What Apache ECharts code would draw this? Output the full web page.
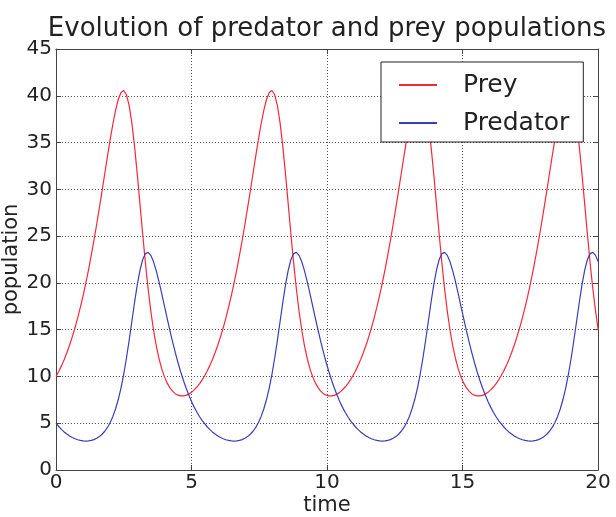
<!DOCTYPE html>
<html>
<head>
<meta charset="utf-8">
<script src="https://cdn.jsdelivr.net/npm/echarts@6/dist/echarts.min.js"></script>
<style>
html,body{margin:0;padding:0;background:#fff;}
#chart{width:616px;height:517px;}
</style>
</head>
<body>
<div id="chart"></div>
<script>
const titleText = 'Evolution of predator and prey populations';
const xTicks = [0, 5, 10, 15, 20];
const yTicks = [0, 5, 10, 15, 20, 25, 30, 35, 40, 45];
const seriesNames = ['Prey', 'Predator'];

const time = [
0.0,0.1,0.2,0.3,0.4,0.5,0.6,0.7,0.8,0.9,
1.0,1.1,1.2,1.3,1.4,1.5,1.6,1.7,1.8,1.9,
2.0,2.1,2.2,2.3,2.4,2.5,2.6,2.7,2.8,2.9,
3.0,3.1,3.2,3.3,3.4,3.5,3.6,3.7,3.8,3.9,
4.0,4.1,4.2,4.3,4.4,4.5,4.6,4.7,4.8,4.9,
5.0,5.1,5.2,5.3,5.4,
5.47,5.57,5.67,5.77,5.87,5.97,6.07,6.17,6.27,6.37,
6.47,6.57,6.67,6.77,6.87,6.97,7.07,7.17,7.27,7.37,
7.47,7.57,7.67,7.77,7.87,7.97,8.07,8.17,8.27,8.37,
8.47,8.57,8.67,8.77,8.87,8.97,9.07,9.17,9.27,9.37,
9.47,9.57,9.67,9.77,9.87,9.97,10.07,10.17,10.27,10.37,
10.47,10.57,10.67,10.77,10.87,
10.94,11.04,11.14,11.24,11.34,11.44,11.54,11.64,11.74,11.84,
11.94,12.04,12.14,12.24,12.34,12.44,12.54,12.64,12.74,12.84,
12.94,13.04,13.14,13.24,13.34,13.44,13.54,13.64,13.74,13.84,
13.94,14.04,14.14,14.24,14.34,14.44,14.54,14.64,14.74,14.84,
14.94,15.04,15.14,15.24,15.34,15.44,15.54,15.64,15.74,15.84,
15.94,16.04,16.14,16.24,16.34,
16.41,16.51,16.61,16.71,16.81,16.91,17.01,17.11,17.21,17.31,
17.41,17.51,17.61,17.71,17.81,17.91,18.01,18.11,18.21,18.31,
18.41,18.51,18.61,18.71,18.81,18.91,19.01,19.11,19.21,19.31,
19.41,19.51,19.61,19.71,19.81,19.91,20.01
];

const prey = [
10.00,10.53,11.13,11.79,12.53,13.34,14.23,15.20,16.26,17.40,
18.64,19.97,21.40,22.93,24.54,26.24,28.01,29.84,31.69,33.54,
35.34,37.01,38.47,39.63,40.36,40.56,40.11,38.95,37.07,34.57,
31.60,28.39,25.17,22.11,19.35,16.96,14.94,13.27,11.92,10.83,
9.98,9.31,8.80,8.43,8.16,8.00,7.92,7.92,7.98,8.11,
8.30,8.56,8.87,9.23,9.66,
10.00,10.53,11.13,11.79,12.53,13.34,14.23,15.20,16.26,17.40,
18.64,19.97,21.40,22.93,24.54,26.24,28.01,29.84,31.69,33.54,
35.34,37.01,38.47,39.63,40.36,40.56,40.11,38.95,37.07,34.57,
31.60,28.39,25.17,22.11,19.35,16.96,14.94,13.27,11.92,10.83,
9.98,9.31,8.80,8.43,8.16,8.00,7.92,7.92,7.98,8.11,
8.30,8.56,8.87,9.23,9.66,
10.00,10.53,11.13,11.79,12.53,13.34,14.23,15.20,16.26,17.40,
18.64,19.97,21.40,22.93,24.54,26.24,28.01,29.84,31.69,33.54,
35.34,37.01,38.47,39.63,40.36,40.56,40.11,38.95,37.07,34.57,
31.60,28.39,25.17,22.11,19.35,16.96,14.94,13.27,11.92,10.83,
9.98,9.31,8.80,8.43,8.16,8.00,7.92,7.92,7.98,8.11,
8.30,8.56,8.87,9.23,9.66,
10.00,10.53,11.13,11.79,12.53,13.34,14.23,15.20,16.26,17.40,
18.64,19.97,21.40,22.93,24.54,26.24,28.01,29.84,31.69,33.54,
35.34,37.01,38.47,39.63,40.36,40.56,40.11,38.95,37.07,34.57,
31.60,28.39,25.17,22.11,19.35,16.96,14.94
];

const predator = [
5.00,4.65,4.34,4.07,3.84,3.64,3.47,3.34,3.23,3.16,
3.11,3.09,3.11,3.16,3.25,3.39,3.57,3.82,4.14,4.55,
5.08,5.73,6.55,7.56,8.79,10.26,11.97,13.87,15.90,17.93,
19.81,21.37,22.50,23.13,23.26,22.94,22.25,21.29,20.13,18.87,
17.55,16.24,14.95,13.73,12.57,11.49,10.50,9.59,8.76,8.01,
7.33,6.72,6.17,5.69,5.25,
5.00,4.65,4.34,4.07,3.84,3.64,3.47,3.34,3.23,3.16,
3.11,3.09,3.11,3.16,3.25,3.39,3.57,3.82,4.14,4.55,
5.08,5.73,6.55,7.56,8.79,10.26,11.97,13.87,15.90,17.93,
19.81,21.37,22.50,23.13,23.26,22.94,22.25,21.29,20.13,18.87,
17.55,16.24,14.95,13.73,12.57,11.49,10.50,9.59,8.76,8.01,
7.33,6.72,6.17,5.69,5.25,
5.00,4.65,4.34,4.07,3.84,3.64,3.47,3.34,3.23,3.16,
3.11,3.09,3.11,3.16,3.25,3.39,3.57,3.82,4.14,4.55,
5.08,5.73,6.55,7.56,8.79,10.26,11.97,13.87,15.90,17.93,
19.81,21.37,22.50,23.13,23.26,22.94,22.25,21.29,20.13,18.87,
17.55,16.24,14.95,13.73,12.57,11.49,10.50,9.59,8.76,8.01,
7.33,6.72,6.17,5.69,5.25,
5.00,4.65,4.34,4.07,3.84,3.64,3.47,3.34,3.23,3.16,
3.11,3.09,3.11,3.16,3.25,3.39,3.57,3.82,4.14,4.55,
5.08,5.73,6.55,7.56,8.79,10.26,11.97,13.87,15.90,17.93,
19.81,21.37,22.50,23.13,23.26,22.94,22.25
];

const FONT = 'DejaVu Sans';
const chart = echarts.init(document.getElementById('chart'), null, {renderer: 'canvas'});

const preyData = time.map((t, i) => [t, prey[i]]);
const predData = time.map((t, i) => [t, predator[i]]);

const axisLineStyle = {color: '#444', width: 1};
const tickStyle = {show: true, inside: true, length: 5, lineStyle: {color: '#444', width: 1}};
const gridLine = {show: true, lineStyle: {color: '#555', width: 1, type: [1, 2]}};

chart.setOption({
  animation: false,
  backgroundColor: '#fff',
  title: {
    text: titleText,
    left: 327,
    top: 16,
    textAlign: 'center',
    padding: 0,
    textStyle: {fontFamily: FONT, fontSize: 26, fontWeight: 'normal', color: '#222'}
  },
  legend: {
    orient: 'vertical',
    left: 381,
    top: 62,
    width: 204,
    padding: [8, 14, 4, 18],
    itemGap: 8,
    itemWidth: 38,
    itemHeight: 2,
    icon: 'rect',
    backgroundColor: '#fff',
    borderColor: '#222',
    borderWidth: 1,
    borderRadius: 0,
    z: 10,
    textStyle: {fontFamily: FONT, fontSize: 25, color: '#222', lineHeight: 30, padding: [0, 0, 0, 21]},
    data: seriesNames
  },
  grid: {left: 56, right: 18, top: 49, bottom: 47, containLabel: false, outerBoundsMode: 'none'},
  xAxis: [{
    type: 'value', min: xTicks[0], max: xTicks[xTicks.length - 1], interval: 5,
    position: 'bottom',
    name: 'time', nameLocation: 'middle', nameGap: 25, nameMoveOverlap: false,
    nameTextStyle: {fontFamily: FONT, fontSize: 21, color: '#222'},
    axisLine: {show: true, onZero: false, lineStyle: axisLineStyle},
    axisTick: tickStyle,
    axisLabel: {fontFamily: FONT, fontSize: 20, color: '#222', margin: 3},
    splitLine: gridLine
  }, {
    type: 'value', min: xTicks[0], max: xTicks[xTicks.length - 1], interval: 5,
    position: 'top',
    axisLine: {show: true, onZero: false, lineStyle: axisLineStyle},
    axisTick: tickStyle,
    axisLabel: {show: false},
    splitLine: {show: false}
  }],
  yAxis: [{
    type: 'value', min: yTicks[0], max: yTicks[yTicks.length - 1], interval: 5,
    position: 'left',
    name: 'population', nameLocation: 'middle', nameGap: 34, nameRotate: 90, nameMoveOverlap: false,
    nameTextStyle: {fontFamily: FONT, fontSize: 21, color: '#222'},
    axisLine: {show: true, onZero: false, lineStyle: axisLineStyle},
    axisTick: tickStyle,
    axisLabel: {fontFamily: FONT, fontSize: 20, color: '#222', margin: 4},
    splitLine: gridLine
  }, {
    type: 'value', min: yTicks[0], max: yTicks[yTicks.length - 1], interval: 5,
    position: 'right',
    axisLine: {show: true, onZero: false, lineStyle: axisLineStyle},
    axisTick: tickStyle,
    axisLabel: {show: false},
    splitLine: {show: false}
  }],
  series: [{
    name: seriesNames[0], type: 'line', data: preyData,
    showSymbol: false, symbol: 'none', clip: true,
    lineStyle: {color: '#f5283a', width: 1.2},
    itemStyle: {color: '#f5283a'},
    z: 3
  }, {
    name: seriesNames[1], type: 'line', data: predData,
    showSymbol: false, symbol: 'none', clip: true,
    lineStyle: {color: '#3c3cb4', width: 1.2},
    itemStyle: {color: '#3c3cb4'},
    z: 3
  }]
});
</script>
</body>
</html>
